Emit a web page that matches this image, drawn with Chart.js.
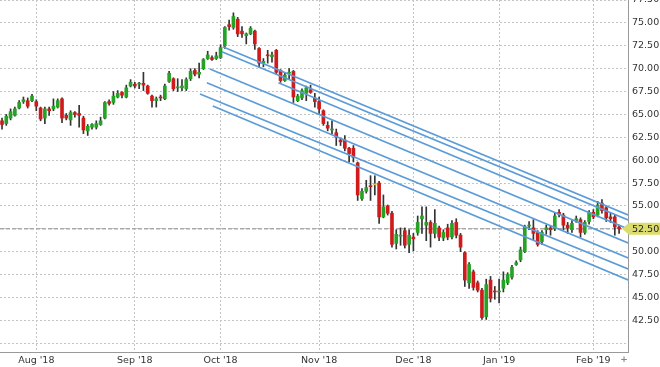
<!DOCTYPE html>
<html>
<head>
<meta charset="utf-8">
<script src="https://cdn.jsdelivr.net/npm/chart.js@4"></script>
<style>
  html, body { margin: 0; padding: 0; background: #fff; }
  #wrap { width: 660px; height: 367px; position: relative; }
</style>
</head>
<body>
<div id="wrap"><canvas id="js-candle-chart"></canvas></div>
<script>
// daily candles, index 0 = first visible session (late Jul '18)
const open = [
  64.3, 64.0, 64.6, 64.9, 65.7, 66.4, 66.5, 66.5, 66.4, 65.7,
  64.6, 65.6, 65.6, 65.8, 66.7, 64.9, 64.4, 65.2, 65.1, 64.6,
  63.2, 63.6, 63.6, 63.9, 64.6, 66.4, 66.3, 66.9, 67.4, 66.9,
  68.1, 68.3, 68.3, 68.4, 68.1, 67.0, 66.5, 66.9, 66.7, 68.6,
  68.9, 67.9, 67.9, 67.8, 68.9, 69.8, 69.4, 70.0, 71.1, 71.2,
  71.1, 71.2, 72.5, 74.8, 74.5, 75.4, 74.1, 73.6, 73.8, 74.1,
  72.2, 70.6, 71.5, 71.3, 72.0, 69.8, 68.7, 69.5, 69.7, 66.5,
  66.8, 67.3, 67.7, 66.8, 66.4, 65.4, 63.8, 63.3, 63.0, 62.2,
  62.2, 61.3, 61.3, 59.7, 55.8, 56.6, 57.2, 57.3, 57.5, 53.8,
  55.0, 54.2, 50.9, 51.7, 52.3, 50.8, 51.6, 52.1, 53.6, 52.9,
  53.2, 52.0, 52.6, 51.5, 52.6, 51.6, 53.2, 51.8, 49.9, 46.6,
  47.8, 46.6, 45.8, 42.9, 46.9, 45.7, 45.6, 46.0, 46.6, 47.2,
  48.6, 49.1, 50.0, 52.8, 52.6, 52.1, 51.1, 52.4, 52.6, 52.5,
  54.3, 54.0, 52.9, 52.4, 53.4, 53.5, 52.1, 53.3, 54.3, 54.0,
  55.3, 54.8, 53.8, 53.8, 52.7
];
const high = [
  64.6, 65.0, 65.6, 65.8, 66.5, 66.9, 66.8, 67.2, 66.6, 65.8,
  65.8, 65.8, 66.7, 66.7, 66.8, 65.1, 65.4, 65.3, 66.0, 64.8,
  63.9, 64.0, 64.3, 64.7, 66.4, 66.6, 67.5, 67.6, 67.5, 68.2,
  68.8, 68.5, 68.5, 69.6, 68.2, 67.1, 66.9, 67.1, 68.3, 69.7,
  69.0, 68.9, 68.8, 69.0, 70.0, 70.0, 70.6, 71.1, 71.9, 71.4,
  71.8, 72.6, 74.6, 75.3, 76.1, 75.6, 74.6, 73.9, 74.6, 74.2,
  72.3, 71.1, 72.0, 71.8, 72.1, 69.9, 69.6, 70.0, 69.8, 67.2,
  67.8, 68.1, 68.2, 67.3, 66.9, 65.5, 64.2, 64.3, 63.4, 62.4,
  62.7, 61.4, 61.6, 59.8, 56.9, 57.8, 58.3, 58.3, 57.7, 56.2,
  55.1, 54.4, 52.4, 52.6, 52.6, 52.4, 52.0, 53.9, 54.9, 54.9,
  53.4, 54.6, 52.8, 52.4, 53.0, 53.4, 53.6, 52.0, 50.0, 48.8,
  48.0, 46.8, 46.0, 47.0, 47.3, 46.2, 47.0, 47.8, 47.7, 48.5,
  49.0, 50.5, 52.9, 53.3, 53.5, 52.3, 52.3, 52.9, 52.8, 54.2,
  54.6, 54.2, 53.2, 53.4, 53.9, 53.7, 53.4, 54.5, 54.6, 55.5,
  55.7, 55.0, 54.2, 54.0, 52.9
];
const low = [
  63.4, 63.8, 64.4, 64.8, 65.6, 66.2, 65.7, 66.4, 65.4, 64.3,
  64.0, 64.9, 65.4, 65.7, 64.1, 64.4, 63.8, 64.7, 63.6, 62.9,
  62.7, 63.4, 63.4, 63.8, 64.5, 66.0, 66.1, 66.8, 66.8, 66.8,
  68.0, 67.9, 67.8, 67.6, 67.2, 65.8, 65.8, 66.5, 66.6, 68.5,
  67.6, 67.5, 67.6, 67.6, 68.7, 69.2, 69.0, 69.9, 71.0, 70.9,
  71.0, 71.1, 72.2, 74.2, 74.3, 73.5, 73.4, 72.7, 73.7, 72.1,
  70.1, 70.2, 70.6, 70.7, 69.4, 68.5, 68.6, 68.9, 66.3, 66.4,
  66.6, 66.5, 67.3, 65.8, 65.1, 63.8, 63.2, 62.9, 61.6, 61.6,
  61.0, 59.8, 59.8, 55.6, 55.6, 56.4, 55.6, 56.2, 53.1, 53.7,
  54.0, 50.5, 50.3, 50.7, 50.4, 49.9, 50.1, 51.8, 52.0, 51.2,
  50.5, 51.5, 51.2, 51.2, 51.3, 51.4, 51.5, 50.0, 46.2, 46.0,
  45.8, 45.6, 42.6, 42.6, 44.5, 44.8, 44.4, 45.6, 46.4, 47.0,
  48.5, 48.9, 49.9, 52.4, 51.3, 50.6, 50.8, 51.9, 51.8, 52.3,
  53.8, 52.4, 52.0, 52.1, 53.2, 51.6, 51.9, 53.0, 53.6, 53.8,
  54.2, 53.3, 53.2, 51.8, 52.0
];
const close = [
  63.9, 64.8, 65.3, 65.6, 66.3, 66.6, 65.9, 67.0, 65.9, 64.5,
  65.6, 65.4, 65.9, 66.5, 64.6, 64.6, 65.2, 65.0, 64.9, 63.3,
  63.7, 63.9, 64.0, 64.3, 66.3, 66.2, 67.0, 67.3, 67.1, 67.9,
  68.5, 68.1, 68.4, 68.2, 67.3, 66.5, 66.7, 66.8, 68.1, 69.5,
  67.8, 68.0, 68.1, 68.8, 69.7, 69.4, 69.6, 71.0, 71.5, 71.0,
  71.4, 72.3, 74.5, 74.6, 75.7, 73.8, 73.8, 73.8, 74.4, 72.7,
  70.6, 70.8, 71.4, 71.5, 69.6, 68.7, 69.3, 69.6, 66.9, 67.0,
  67.6, 67.9, 67.4, 66.4, 65.6, 64.0, 63.5, 63.4, 62.5, 62.0,
  61.3, 60.7, 60.3, 56.2, 56.6, 57.0, 57.1, 57.3, 53.8, 54.9,
  54.2, 50.8, 51.9, 51.8, 50.7, 51.8, 51.4, 53.2, 53.9, 53.2,
  52.0, 53.1, 51.6, 52.1, 51.6, 53.1, 51.8, 50.5, 46.9, 48.6,
  46.1, 45.8, 42.8, 46.4, 44.9, 45.6, 45.7, 46.9, 47.5, 48.3,
  48.8, 50.2, 52.7, 52.9, 52.0, 50.8, 52.1, 52.6, 52.4, 53.9,
  54.1, 52.9, 52.6, 53.1, 53.6, 52.1, 53.2, 54.3, 53.8, 55.1,
  54.5, 53.7, 53.6, 52.7, 52.5
];

// first session of each month (candle index) and its label
const monthIdx = [8, 31, 51, 74, 96, 116, 138];
const monthLabels = ["Aug '18", "Sep '18", "Oct '18", "Nov '18", "Dec '18", "Jan '19", "Feb '19"];

// drawn channel lines: start/end as (candle index, price)
const chanStartIdx = [51.5, 51.3, 64.5, 48.5, 47.8, 46.2, 49.2];
const chanStartPrice = [72.40, 71.85, 68.46, 69.96, 68.46, 67.23, 65.92];
const chanEndIdx = [146.1, 146.1, 146.1, 146.1, 146.1, 146.1, 146.1];
const chanEndPrice = [54.01, 53.46, 52.48, 50.95, 49.31, 48.11, 46.91];

const UP = "#25a325";
const DOWN = "#cf1b1b";
const FLAT = "#e3c43a";
const FONT = "'DejaVu Sans', Verdana, sans-serif";

const lastPrice = close[close.length - 1];

const candleColor = open.map((o, i) => close[i] > o ? UP : (close[i] < o ? DOWN : FLAT));

const lineSets = chanStartIdx.map((s, i) => ({
    type: "line",
    data: [{ x: s, y: chanStartPrice[i] }, { x: chanEndIdx[i], y: chanEndPrice[i] }],
    borderColor: "#5b9bd8",
    borderWidth: 1.6,
    pointRadius: 0,
    fill: false,
    order: 0,
}));

const pricePlugin = {
    id: "priceMarker",
    beforeDatasetsDraw(chart) {
        const { ctx, chartArea, scales } = chart;
        const y = scales.y.getPixelForValue(lastPrice);
        ctx.save();
        ctx.strokeStyle = "#aaaaaa";
        ctx.lineWidth = 1.5;
        ctx.setLineDash([4, 2]);
        ctx.beginPath();
        ctx.moveTo(chartArea.left, y);
        ctx.lineTo(chartArea.right, y);
        ctx.stroke();
        ctx.restore();
    },
    afterDraw(chart) {
        const { ctx, chartArea, scales } = chart;
        const y = scales.y.getPixelForValue(lastPrice);
        const x0 = chartArea.right;
        ctx.save();
        ctx.fillStyle = "#dcdc6e";
        ctx.beginPath();
        ctx.moveTo(x0 - 6, y);
        ctx.lineTo(x0 + 1, y - 6);
        ctx.lineTo(chart.width, y - 6);
        ctx.lineTo(chart.width, y + 6);
        ctx.lineTo(x0 + 1, y + 6);
        ctx.closePath();
        ctx.fill();
        ctx.fillStyle = "#222";
        ctx.font = "9.5px " + FONT;
        ctx.textBaseline = "middle";
        ctx.textAlign = "left";
        ctx.fillText(lastPrice.toFixed(2), x0 + 4, y + 0.5);
        // little zoom "+" in the corner
        ctx.fillStyle = "#888";
        ctx.font = "bold 9px " + FONT;
        ctx.textAlign = "center";
        ctx.fillText("+", x0 - 4, chartArea.bottom + 8);
        ctx.restore();
    },
};

const ctx = document.getElementById("js-candle-chart").getContext("2d");
new Chart(ctx, {
    type: "bar",
    data: {
        datasets: [
            ...lineSets,
            {
                label: "wick",
                data: high.map((h, i) => ({ x: i, y: [low[i], h] })),
                backgroundColor: "#333",
                barThickness: 1,
                grouped: false,
                order: 2,
            },
            {
                label: "body",
                data: open.map((o, i) => ({ x: i, y: [o, close[i]] })),
                backgroundColor: candleColor,
                barThickness: 3,
                minBarLength: 1,
                grouped: false,
                order: 1,
            },
        ],
    },
    options: {
        responsive: true,
        maintainAspectRatio: false,
        animation: false,
        layout: { padding: 0 },
        plugins: {
            legend: { display: false },
            tooltip: { enabled: false },
        },
        scales: {
            x: {
                type: "linear",
                min: -0.47,
                max: 146.08,
                offset: false,
                grid: { color: "#c4c4c4", offset: false, drawTicks: false },
                border: { color: "#999", width: 1, dash: [2, 2] },
                afterBuildTicks: (scale) => {
                    scale.ticks = monthIdx.map((v) => ({ value: v }));
                },
                afterFit: (scale) => {
                    scale.height = 15;
                    scale.paddingLeft = 0;
                    scale.paddingRight = 0;
                },
                ticks: {
                    autoSkip: false,
                    maxRotation: 0,
                    padding: 3,
                    color: "#333",
                    font: { family: FONT, size: 9.5 },
                    callback: (v) => monthLabels[monthIdx.indexOf(v)],
                },
            },
            y: {
                position: "right",
                min: 39.04,
                max: 77.5,
                grid: { color: "#c4c4c4", drawTicks: false },
                border: { color: "#999", width: 1, dash: [2, 2] },
                afterFit: (scale) => {
                    scale.width = 32;
                    scale.paddingTop = 0;
                    scale.paddingBottom = 0;
                },
                ticks: {
                    stepSize: 2.5,
                    includeBounds: false,
                    padding: 4,
                    color: "#333",
                    font: { family: FONT, size: 9.5 },
                    callback: (v) => (v < 41 ? "" : v.toFixed(2)),
                },
            },
        },
    },
    plugins: [pricePlugin],
});
</script>
</body>
</html>
